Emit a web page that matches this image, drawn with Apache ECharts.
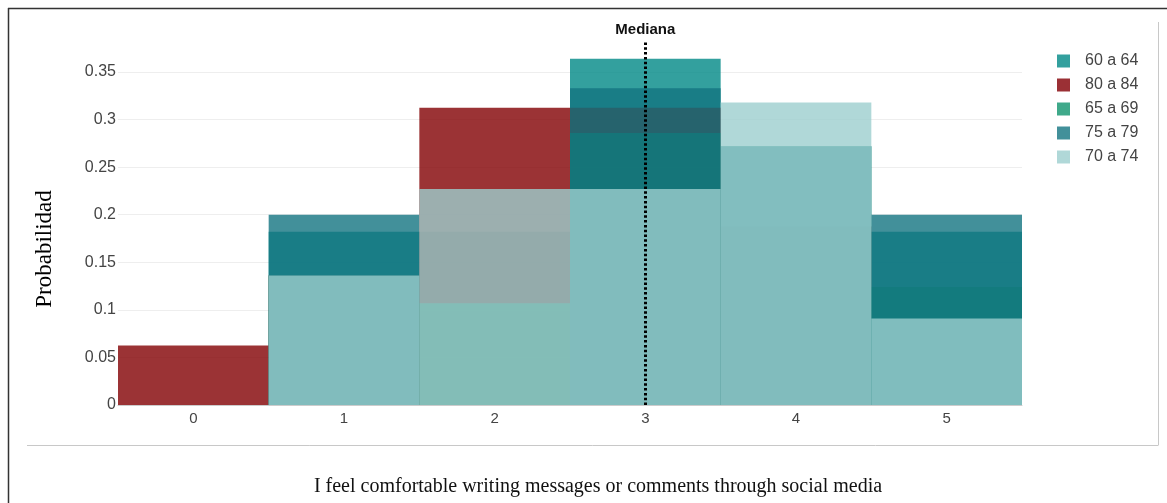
<!DOCTYPE html>
<html>
<head>
<meta charset="utf-8">
<script src="https://cdn.jsdelivr.net/npm/echarts@6/dist/echarts.min.js"></script>
<style>
html,body{margin:0;padding:0;background:#fff;}
#chart{width:1167px;height:503px;}
</style>
</head>
<body>
<div id="chart"></div>
<script>
// ---- data ----
var categories = ['0', '1', '2', '3', '4', '5'];
var seriesNames = ['60 a 64', '80 a 84', '65 a 69', '75 a 79', '70 a 74'];
var s6064 = [0, 0.182, 0.182, 0.364, 0.091, 0.182];
var s8084 = [0.0625, 0.136, 0.3125, 0.3125, 0.1875, 0];
var s6569 = [0, 0.136, 0.107, 0.286, 0.272, 0.124];
var s7579 = [0, 0.2, 0, 0.333, 0.272, 0.2];
var s7074 = [0, 0.136, 0.227, 0.227, 0.318, 0.091];
var yTicks = [0, 0.05, 0.1, 0.15, 0.2, 0.25, 0.3, 0.35];
var yMax = 0.385;
var medianCategory = '3';
var medianTop = 0.382;
var yTitle = 'Probabilidad';
var xTitle = 'I feel comfortable writing messages or comments through social media';

// ---- styles ----
var fullColors = ['#008886', '#820003', '#0f946d', '#137481', '#9ccece'];
var swatchColors = ['#33a09e', '#9b3035', '#3fa98a', '#42909a', '#b0d8d8'];
var allData = [s6064, s8084, s6569, s7579, s7074];

var chart = echarts.init(document.getElementById('chart'), null, {renderer: 'canvas'});

var series = allData.map(function (d, i) {
  var s = {
    name: seriesNames[i],
    type: 'bar',
    data: d,
    barGap: '-100%',
    barCategoryGap: 0,
    itemStyle: {color: fullColors[i], opacity: 0.8},
    emphasis: {disabled: true},
    animation: false
  };
  if (i === allData.length - 1) {
    s.markLine = {
      silent: true,
      symbol: 'none',
      animation: false,
      lineStyle: {color: '#000', type: [2.5, 2.3], width: 3, opacity: 1},
      label: {
        show: true,
        position: 'end',
        formatter: 'Mediana',
        color: '#111',
        fontFamily: 'Arial, Liberation Sans, sans-serif',
        fontSize: 15,
        fontWeight: 'bold',
        distance: 4
      },
      data: [[{coord: [medianCategory, 0]}, {coord: [medianCategory, medianTop]}]]
    };
  }
  return s;
});

chart.setOption({
  animation: false,
  grid: {left: 118, right: 145, top: 38.7, bottom: 98, containLabel: false},
  legend: {
    orient: 'vertical',
    left: 1057,
    top: 53,
    padding: 0,
    itemWidth: 13,
    itemHeight: 13,
    itemGap: 8,
    icon: 'rect',
    selectedMode: false,
    textStyle: {color: '#444', fontSize: 16, fontFamily: 'Arial, Liberation Sans, sans-serif', lineHeight: 16, padding: [0, 0, 0, 10]},
    data: seriesNames.map(function (n, i) {
      return {name: n, itemStyle: {color: swatchColors[i], opacity: 1}};
    })
  },
  xAxis: {
    type: 'category',
    data: categories,
    axisTick: {show: false},
    axisLine: {show: true, lineStyle: {color: '#ccc', width: 1}},
    axisLabel: {color: '#444', fontSize: 15, fontFamily: 'Arial, Liberation Sans, sans-serif', margin: 6},
    splitLine: {show: false}
  },
  yAxis: {
    type: 'value',
    min: 0,
    max: yMax,
    interval: 0.05,
    axisLine: {show: false},
    axisTick: {show: false},
    axisLabel: {
      color: '#444', fontSize: 16, fontFamily: 'Arial, Liberation Sans, sans-serif', margin: 2,
      showMaxLabel: false,
      formatter: function (v) {
        for (var k = 0; k < yTicks.length; k++) {
          if (Math.abs(yTicks[k] - v) < 1e-9) return String(yTicks[k]);
        }
        return '';
      }
    },
    splitLine: {show: true, showMaxLine: false, lineStyle: {color: '#eeeeee', width: 1}}
  },
  graphic: [
    {type: 'line', shape: {x1: 8, y1: 8.5, x2: 1167, y2: 8.5}, style: {stroke: '#333', lineWidth: 1.5}, silent: true},
    {type: 'line', shape: {x1: 8.5, y1: 8, x2: 8.5, y2: 503}, style: {stroke: '#333', lineWidth: 1.5}, silent: true},
    {type: 'line', shape: {x1: 1158.5, y1: 22, x2: 1158.5, y2: 445}, style: {stroke: '#c8c8c8', lineWidth: 1}, silent: true},
    {type: 'line', shape: {x1: 27, y1: 445.5, x2: 1158.5, y2: 445.5}, style: {stroke: '#c8c8c8', lineWidth: 1}, silent: true},
    {type: 'text', x: 45, y: 249, rotation: Math.PI / 2, style: {text: yTitle, fill: '#000', font: '23px "Liberation Serif", "Times New Roman", serif', textAlign: 'center', textVerticalAlign: 'middle'}, silent: true},
    {type: 'text', x: 598, y: 487, style: {text: xTitle, fill: '#111', font: '20px "Liberation Serif", "Times New Roman", serif', textAlign: 'center', textVerticalAlign: 'middle'}, silent: true}
  ],
  series: series
});
</script>
</body>
</html>
